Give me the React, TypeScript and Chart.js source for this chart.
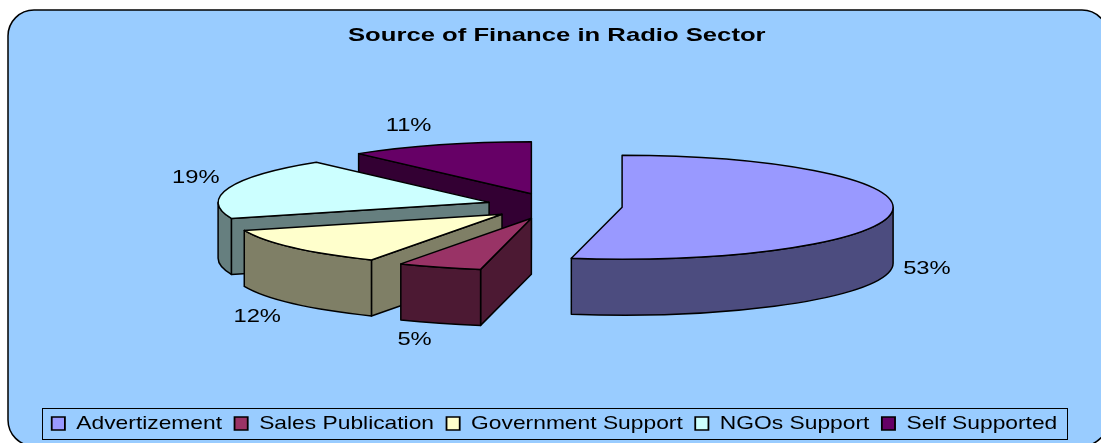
import React, { useEffect, useRef } from "react";
import { Chart, registerables } from "chart.js";

Chart.register(...registerables);

const categories = ["Advertizement", "Sales Publication", "Government Support", "NGOs Support", "Self Supported"];
const shares = [53, 5, 12, 19, 11];
const topColors = ["#9999FF", "#993366", "#FFFFCC", "#CCFFFF", "#660066"];
const wallColors = ["#4C4C7F", "#4C1933", "#7F7F66", "#667F7F", "#330033"];
// Distance of each percentage label from the middle of its slice's rim.
const labelGaps = [[35, 57], [-25, 73], [-36, 69], [-33, -10], [-31, -19]];

const WIDTH = 1101;
const HEIGHT = 443;
const PIE_X = 554.4;
const PIE_Y = 206;
const TILT = 0.192;
const DEPTH = 56;
const EXPLODE = 68;
const TITLE_STRETCH = 1.35;
const LEGEND_STRETCH = 1.2;
const LABEL_STRETCH = 1.25;
const STROKE = "#000000";

type Pt = [number, number];

function drawSlice(ctx: CanvasRenderingContext2D, arc: any, index: number) {
  const { startAngle: s, endAngle: e, outerRadius: R } = arc;
  const mid = (s + e) / 2;
  const ox = PIE_X + Math.cos(mid) * EXPLODE;
  const oy = PIE_Y + Math.sin(mid) * EXPLODE * TILT;
  const rim = (a: number): Pt => [ox + Math.cos(a) * R, oy + Math.sin(a) * R * TILT];

  ctx.save();
  ctx.lineWidth = 1.5;
  ctx.lineJoin = "round";
  ctx.strokeStyle = STROKE;
  ctx.fillStyle = wallColors[index];

  // Flat faces left by the cut, visible only when they turn towards the viewer.
  const face = (a: number) => {
    const [x, y] = rim(a);
    ctx.beginPath();
    ctx.moveTo(ox, oy);
    ctx.lineTo(x, y);
    ctx.lineTo(x, y + DEPTH);
    ctx.lineTo(ox, oy + DEPTH);
    ctx.closePath();
    ctx.fill();
    ctx.stroke();
  };
  if (Math.cos(s) < -1e-6) face(s);
  if (Math.cos(e) > 1e-6) face(e);

  // Curved outer wall, on the near half of the rim only.
  const a0 = Math.max(s, 0);
  const a1 = Math.min(e, Math.PI);
  if (a1 > a0) {
    ctx.beginPath();
    ctx.ellipse(ox, oy, R, R * TILT, 0, a0, a1);
    ctx.ellipse(ox, oy + DEPTH, R, R * TILT, 0, a1, a0, true);
    ctx.closePath();
    ctx.fill();
    ctx.stroke();
  }

  // Top of the slice: the library's own arc, flattened into the tilted plane.
  ctx.save();
  ctx.translate(ox, oy);
  ctx.scale(1, TILT);
  ctx.translate(-arc.x, -arc.y);
  arc.draw(ctx);
  ctx.restore();

  ctx.beginPath();
  ctx.moveTo(ox, oy);
  ctx.ellipse(ox, oy, R, R * TILT, 0, s, e);
  ctx.closePath();
  ctx.stroke();
  ctx.restore();
}

const stretchX = (box: any, center: number, factor: number) => {
  const draw = box.draw;
  box.draw = function (...rest: any[]) {
    const ctx = this.ctx;
    ctx.save();
    ctx.translate(center, 0);
    ctx.scale(factor, 1);
    ctx.translate(-center, 0);
    draw.apply(this, rest);
    ctx.restore();
  };
};

const pie3d = {
  id: "pie3d",
  beforeDraw(chart: any) {
    const ctx = chart.ctx;
    if (!chart.$stretched) {
      chart.$stretched = true;
      stretchX(chart.titleBlock, 548, TITLE_STRETCH);
      stretchX(chart.legend, 554.5, LEGEND_STRETCH);
    }
    // Rounded panel behind the chart; its right side runs past the canvas.
    ctx.save();
    ctx.beginPath();
    ctx.roundRect(8, 10, 1100, 436, 26);
    ctx.fillStyle = "#99CCFF";
    ctx.fill();
    ctx.lineWidth = 1.5;
    ctx.strokeStyle = STROKE;
    ctx.stroke();
    // Legend frame.
    ctx.lineWidth = 1;
    ctx.strokeRect(42.5, 408.5, 1025, 31);
    ctx.restore();
  },
  beforeDatasetDraw(chart: any, args: any) {
    const arcs = args.meta.data;
    // Paint from the back of the tilted pie to the front.
    const order = arcs
      .map((arc: any, i: number) => i)
      .sort(
        (a: number, b: number) =>
          Math.sin((arcs[a].startAngle + arcs[a].endAngle) / 2) -
          Math.sin((arcs[b].startAngle + arcs[b].endAngle) / 2)
      );
    for (const i of order) drawSlice(chart.ctx, arcs[i], i);
    return false;
  },
  afterDatasetsDraw(chart: any) {
    const ctx = chart.ctx;
    const arcs = chart.getDatasetMeta(0).data;
    ctx.save();
    ctx.font = '19px "Liberation Sans"';
    ctx.fillStyle = "#000000";
    ctx.textAlign = "center";
    ctx.textBaseline = "middle";
    arcs.forEach((arc: any, i: number) => {
      const mid = (arc.startAngle + arc.endAngle) / 2;
      const reach = arc.outerRadius + EXPLODE;
      const x = PIE_X + Math.cos(mid) * reach + labelGaps[i][0];
      const y = PIE_Y + Math.sin(mid) * reach * TILT + labelGaps[i][1];
      ctx.save();
      ctx.translate(x, y);
      ctx.scale(LABEL_STRETCH, 1);
      ctx.fillText(`${shares[i]}%`, 0, 0);
      ctx.restore();
    });
    ctx.restore();
  },
};

export default function App() {
  const canvasRef = useRef<HTMLCanvasElement>(null);

  useEffect(() => {
    document.body.style.margin = "0";
    const chart = new Chart(canvasRef.current as HTMLCanvasElement, {
      type: "pie",
      data: {
        labels: categories,
        datasets: [
          {
            data: shares,
            backgroundColor: topColors,
            borderWidth: 0,
            radius: 271,
          } as any,
        ],
      },
      options: {
        responsive: false,
        animation: false,
        events: [],
        layout: { padding: { left: 8 } },
        plugins: {
          tooltip: { enabled: false },
          title: {
            display: true,
            text: "Source of Finance in Radio Sector",
            color: "#000000",
            font: { family: '"Liberation Sans"', size: 19, weight: "bold" },
            padding: { top: 24, bottom: 10 },
          },
          legend: {
            position: "bottom",
            labels: {
              color: "#000000",
              font: { family: '"Liberation Sans"', size: 19 },
              boxWidth: 11,
              boxHeight: 13,
              padding: 10.4,
              generateLabels: () =>
                categories.map((text, i) => ({
                  text,
                  fillStyle: topColors[i],
                  strokeStyle: STROKE,
                  lineWidth: 1.5,
                  index: i,
                  hidden: false,
                })),
            },
          },
        },
      },
      plugins: [pie3d],
    } as any);
    return () => chart.destroy();
  }, []);

  return (
    <div style={{ width: WIDTH, height: HEIGHT }}>
      <canvas ref={canvasRef} width={WIDTH} height={HEIGHT} style={{ display: "block" }} />
    </div>
  );
}
